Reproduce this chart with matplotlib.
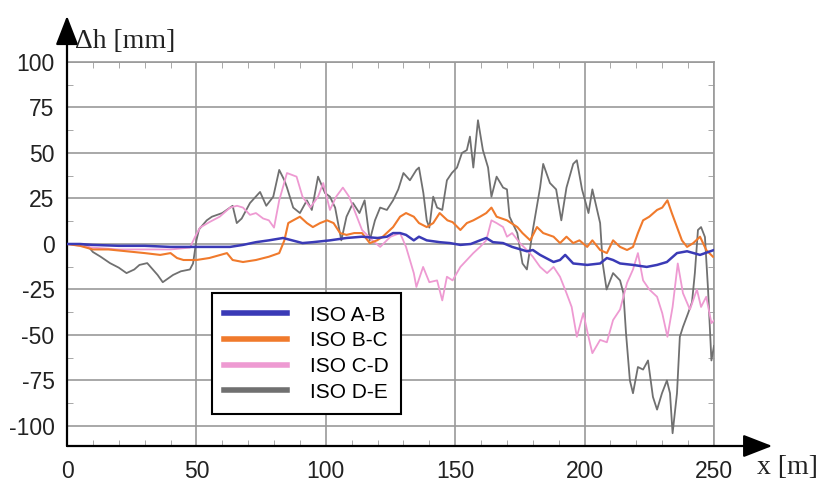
import matplotlib.pyplot as plt
import matplotlib.ticker as ticker

plt.rcParams["axes.unicode_minus"] = False

# ISO A-B
ab_x = [0, 5, 10, 20, 30, 40, 47.5, 55, 63, 68, 73, 78, 83.5, 87, 91, 95, 101.6, 108, 114, 120,
        123.6, 126, 128.7, 131, 134, 136, 139, 144, 148, 152, 156, 159.6, 162, 164.6, 168.5, 172,
        177.7, 180, 182.8, 188, 190.5, 192.5, 195.6, 201, 206, 208.6, 211, 213.7, 218.7, 224, 228,
        231.8, 235.7, 239.6, 244.6, 250]
ab_y = [0, 0, -0.5, -1, -1, -1.6, -1.6, -1.6, -1.6, -0.5, 1, 2, 3.3, 2, 0.5, 1, 2, 3.3, 4, 3.3,
        4, 6, 6, 5, 2, 4, 2, 1, 0.5, -0.5, 0, 2, 3.3, 1, 0.5, -1.6,
        -4, -3.3, -6, -9.9, -8.8, -6, -10.7, -11.5, -10.7, -7.7, -8.8, -10.7, -11.5, -12.6, -11.5,
        -9.9, -5, -4, -6, -3.3]

# ISO B-C
bc_x = [0, 5, 10, 16, 23, 30, 36, 40, 42.5, 45, 50, 55, 61.8, 64, 68, 73, 78, 82, 84, 85.5, 87.4,
        90, 92.7, 95, 97.8, 100.5, 103, 105.5, 108, 111, 114, 117, 119.8, 122, 126, 128.7, 131, 134,
        136, 139, 141.5, 144, 147, 149, 152, 154.5, 157, 159.6, 162, 164, 166, 170, 174, 176, 179,
        181.6, 184, 188, 190.5, 193, 195.6, 198, 201, 203, 206, 208.6, 211, 213.7, 216.4, 218.7,
        220.6, 222.6, 225, 228, 230, 232, 233.7, 235.7, 237.6, 239.6, 242, 244.6, 247, 249.6]
bc_y = [0, -1, -3, -3, -4, -5, -6, -5, -7.7, -8.8, -8.8, -7.7, -5, -8.8, -9.9, -8.8, -7, -5, 2, 11.5, 13,
        15, 11.5, 9.3, 11.5, 13, 11.5, 6, 5, 6, 6, 0.5, 2, 4, 9.3, 15, 17, 15,
        11.5, 9.3, 11.5, 17, 13, 12, 7.7, 11.5, 13, 15, 17, 20, 15, 13, 9.3, 6, 2,
        9.3, 6, 4, 0.5, 4, 0.5, 2, -1.6, 2, -3.3, -5, 2, -1.6, -3.3, -1.6,
        6, 13, 15, 18.7, 20, 24, 17, 9.3, 2, -1.6, 0.5, 4, -3.3, -7]

# ISO C-D
cd_x = [0, 5, 10, 20, 30, 40, 47.5, 49.5, 51.4, 55, 59, 63, 65.7, 68, 70.7, 73, 75.8, 78, 80, 82,
        85, 88.7, 91, 94, 97, 99, 101.6, 104, 106.6, 109, 112, 114, 118, 121, 125, 128.7, 131, 134,
        135, 137.6, 140, 143, 145, 146.8, 149, 152, 154.5, 157, 159.6, 162, 164, 166, 168.5, 170,
        172, 175, 177.7, 180, 182.8, 185.5, 188, 190.5, 193, 195, 197, 199.5, 201.5, 203, 206,
        208.6, 211, 213.7, 216.4, 218.7, 220.6, 222.6, 225, 228, 230, 232, 234, 236, 238, 240.7,
        243.4, 245, 247, 249, 250]
cd_y = [0, -1, -2, -3, -3, -3, -2, 4, 9, 12, 15, 20, 21, 20, 16, 17, 14, 13, 9, 24,
        39, 37, 26, 20, 26, 33.5, 18.7, 26, 31, 26, 15, 7.7, 2, -1.6, 4, 6, -1.6, -16,
        -23.6, -12.6, -21, -20, -31, -18, -20, -12.6, -8.8, -5, -1.6, 2, 13, 11.5, 9.3, 4,
        6, 0.5, -3.3, -7, -12.6, -16, -12.6, -18, -27, -34.6, -51, -38, -51, -60, -52.7,
        -54, -41.8, -36, -21.4, -14, -5, -20, -25, -29, -38, -51, -34.6, -10.7, -27, -36,
        -25, -34.6, -29, -43.5, -42]

# ISO D-E
de_x = [0, 5, 8, 10, 13, 16.6, 20, 23, 26, 28, 31, 35, 37, 41, 44, 47.5, 48.7, 50, 51, 54, 56, 60,
        63, 64, 65.6, 67.5, 70.7, 74.6, 77, 79.7, 82, 84, 85, 87.4, 90, 92.7, 94.6, 97, 99.7, 101.6,
        103.6, 106, 108, 110.5, 113, 115, 117, 119, 121, 123.6, 126, 128, 130, 132.5, 135, 136,
        137.7, 139, 140, 141.5, 143, 145, 146.8, 148.7, 150.7, 152.6, 154.5, 155.7, 157, 158.8,
        160.7, 162.7, 164, 166, 168.5, 170, 171, 174, 176, 177.7, 180, 182.8, 184, 186.6, 189, 191,
        193, 195.6, 197, 199, 201.5, 203, 206, 207, 208.5, 211, 213.7, 215, 216, 217.5, 218.7,
        220.6, 222.6, 224.5, 226.4, 228, 229.9, 231.8, 233, 234, 235.7, 236.8, 238, 240, 241.5,
        242.6, 243.8, 245, 246.5, 247.7, 249, 250]
de_y = [0, 0, -1, -4.4, -7, -10.5, -13, -16, -14, -11.5, -10.5, -17, -21, -17, -15, -14, -10.7, 2, 8, 13, 15, 17,
        20, 21, 11.5, 14, 22.5, 28.6, 21, 26, 40.7, 35, 31, 20, 17, 24, 18.7, 37, 28, 26,
        20, 2, 15, 22.5, 17, 24, 2, 13, 20, 18.7, 24, 30, 39, 35, 40.7, 42,
        28, 13, 9, 26, 20, 18.7, 35, 39, 42, 50, 51.6, 59, 42, 68,
        51.6, 42, 26, 37, 31, 30, 15, 6, -10.7, -14, 7.7, 31, 44, 33.5, 30, 13,
        31, 44, 46, 30, 17, 30, 11.5, -10.7, -25, -16, -20, -27, -49, -75, -82,
        -67.6, -69, -64, -84, -91, -82, -75, -82, -104, -82, -51, -45.6, -38, -32,
        -16, 7.7, 9.3, 3.8, -25, -64, -56]

labels = ["ISO A-B", "ISO B-C", "ISO C-D", "ISO D-E"]
line_colors = ["#3a3ab6", "#f07a2c", "#ee9ad2", "#707070"]

fig = plt.figure(figsize=(8.21, 4.83), dpi=100)
ax = fig.add_axes([67 / 821, 1 - 446 / 483, 647 / 821, 384 / 483])

grid_c = "#9a9a9a"
h_de, = ax.plot(de_x, de_y, color=line_colors[3], lw=1.3, zorder=3)
h_cd, = ax.plot(cd_x, cd_y, color=line_colors[2], lw=1.3, zorder=4)
h_bc, = ax.plot(bc_x, bc_y, color=line_colors[1], lw=1.5, zorder=5)
h_ab, = ax.plot(ab_x, ab_y, color=line_colors[0], lw=1.8, zorder=6)

ax.set_xlim(0, 250)
ax.set_ylim(-111, 100)

ax.xaxis.set_major_locator(ticker.MultipleLocator(50))
ax.yaxis.set_major_locator(ticker.MultipleLocator(25))
ax.xaxis.set_minor_locator(ticker.MultipleLocator(10))
ax.yaxis.set_minor_locator(ticker.MultipleLocator(12.5))
ax.grid(True, which="major", color=grid_c, lw=1.2)
ax.set_axisbelow(True)

ax.tick_params(which="major", length=0, labelsize=16.5, labelcolor="#222222")
ax.tick_params(axis="x", which="major", pad=10)
ax.tick_params(axis="y", which="major", pad=9)
ax.tick_params(which="minor", direction="in", length=4, color=grid_c,
               top=True, right=True, bottom=True, left=True)
for lab in ax.get_xticklabels() + ax.get_yticklabels():
    lab.set_fontfamily("Liberation Sans")

ax.spines["top"].set_color(grid_c)
ax.spines["right"].set_color(grid_c)
ax.spines["top"].set_linewidth(1.2)
ax.spines["right"].set_linewidth(1.2)
ax.spines["left"].set_visible(False)
ax.spines["bottom"].set_visible(False)

# axis arrows
arrow = dict(arrowstyle="-|>,head_length=0.9,head_width=0.35", color="black", lw=1.6,
             mutation_scale=20, shrinkA=0, shrinkB=0)
ax.annotate("", xy=(0, 1.12), xytext=(0, 0), xycoords="axes fraction",
            textcoords="axes fraction", arrowprops=arrow, annotation_clip=False)
ax.annotate("", xy=(1.09, 0), xytext=(0, 0), xycoords="axes fraction",
            textcoords="axes fraction", arrowprops=arrow, annotation_clip=False)

fig.text(75 / 821, 1 - 41 / 483, "\u0394h [mm]", family="Liberation Serif", fontsize=20,
         ha="left", va="center", color="#222222")
fig.text(757 / 821, 1 - 468 / 483, "x [m]", family="Liberation Serif", fontsize=20,
         ha="left", va="center", color="#222222")

leg = ax.legend([h_ab, h_bc, h_cd, h_de], labels, loc="upper left",
                bbox_to_anchor=(0.224, 0.398), borderaxespad=0, fancybox=False,
                framealpha=1, edgecolor="black", handlelength=3.0, handletextpad=1.1,
                labelspacing=0.32, borderpad=0.6, prop={"family": "Liberation Sans", "size": 15})
leg.get_frame().set_linewidth(1.5)
for h in leg.legend_handles:
    h.set_linewidth(4)
leg.set_zorder(10)

fig.savefig("out.png", dpi=100)
